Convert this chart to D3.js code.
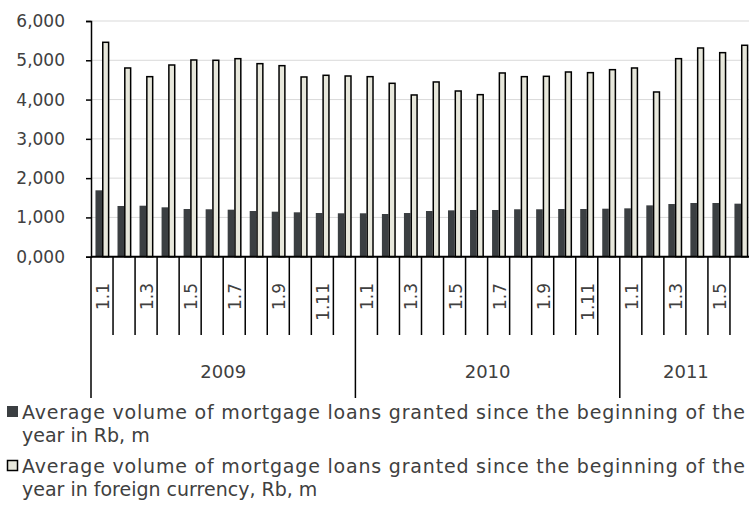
<!DOCTYPE html>
<html>
<head>
<meta charset="utf-8">
<script src="https://cdn.jsdelivr.net/npm/d3@7"></script>
<style>
  html, body { margin: 0; padding: 0; background: #fff; }
  svg { display: block; }
  text { font-family: "DejaVu Sans", sans-serif; fill: #404040; }
</style>
</head>
<body>
<svg id="chart" width="749" height="509"></svg>
<script>
// Monthly categories (day.month), grouped by year
const years = ["2009", "2010", "2011"];
const monthsPerYear = [12, 12, 6];
const monthLabels = ["1.1", "1.2", "1.3", "1.4", "1.5", "1.6", "1.7", "1.8", "1.9", "1.10", "1.11", "1.12"];

// Average volume of mortgage loans granted since the beginning of the year, Rb m
const rubleLoans = [
  1690, 1291, 1298, 1257, 1214, 1207, 1197, 1163, 1146, 1130, 1112, 1105,
  1105, 1087, 1112, 1163, 1180, 1189, 1189, 1207, 1207, 1214, 1214, 1222,
  1231, 1307, 1341, 1367, 1367, 1350
];
const foreignLoans = [
  5458, 4804, 4583, 4880, 5008, 5000, 5041, 4914, 4863, 4575, 4618, 4600,
  4583, 4414, 4117, 4448, 4218, 4125, 4677, 4583, 4592, 4702, 4685, 4761,
  4804, 4193, 5041, 5313, 5194, 5382
];

const yTickValues = [0, 1000, 2000, 3000, 4000, 5000, 6000];
const yTickLabels = ["0,000", "1,000", "2,000", "3,000", "4,000", "5,000", "6,000"];

const seriesNames = [
  "Average volume of mortgage loans granted since the beginning of the year in Rb, m",
  "Average volume of mortgage loans granted since the beginning of the year in foreign currency, Rb, m"
];
const legendLines = [
  ["Average volume of mortgage loans granted since the beginning of the", "year in Rb, m"],
  ["Average volume of mortgage loans granted since the beginning of the", "year in foreign currency, Rb, m"]
];

// Build the category list
const categories = [];
years.forEach((yr, yi) => {
  for (let m = 0; m < monthsPerYear[yi]; m++) {
    categories.push({ id: yr + "-" + (m + 1), year: yr, month: monthLabels[m], m: m });
  }
});
const rows = categories.map((c, i) => ({ ...c, rb: rubleLoans[i], fx: foreignLoans[i] }));

const colors = { rb: "#3b3f42", fx: "#e7e7db" };

const svg = d3.select("#chart");
const W = 749;
const plotL = 91, plotR = W + 3, plotT = 21, plotB = 256.7;

const x = d3.scaleBand().domain(rows.map(d => d.id)).range([plotL, plotR]).padding(0);
const x1 = d3.scaleBand().domain(["rb", "fx"]).range([0, x.step()]).paddingInner(0).paddingOuter(0.5);
const y = d3.scaleLinear().domain([0, 6000]).range([plotB, plotT]);

// Horizontal gridlines
svg.append("g")
  .selectAll("line")
  .data(yTickValues.filter(v => v > 0))
  .join("line")
  .attr("x1", plotL).attr("x2", plotR)
  .attr("y1", d => y(d)).attr("y2", d => y(d))
  .attr("stroke", "#d9d9d9").attr("stroke-width", 1);

// Bars
const groups = svg.append("g")
  .selectAll("g")
  .data(rows)
  .join("g")
  .attr("transform", d => `translate(${x(d.id)},0)`);

groups.append("rect")
  .attr("x", x1("rb") + 0.8)
  .attr("width", x1.bandwidth() - 0.8)
  .attr("y", d => y(d.rb))
  .attr("height", d => y(0) - y(d.rb))
  .attr("fill", colors.rb);

groups.append("rect")
  .attr("x", x1("fx") + 0.75)
  .attr("width", x1.bandwidth() - 1.5)
  .attr("y", d => y(d.fx))
  .attr("height", d => y(0) - y(d.fx))
  .attr("fill", colors.fx)
  .attr("stroke", "#000")
  .attr("stroke-width", 1.5);

// Y axis
const yAxis = d3.axisLeft(y)
  .tickValues(yTickValues)
  .tickFormat((d, i) => yTickLabels[i])
  .tickSize(5)
  .tickPadding(21);
const gy = svg.append("g").attr("transform", `translate(${plotL},0)`).call(yAxis);
gy.select(".domain").attr("stroke", "#000").attr("stroke-width", 1.5);
gy.selectAll(".tick line").attr("stroke", "#000").attr("stroke-width", 1.5);
gy.selectAll(".tick text")
  .attr("font-family", "DejaVu Sans")
  .attr("font-size", 17)
  .attr("fill", "#404040");

// X axis line
svg.append("line")
  .attr("x1", plotL).attr("x2", plotR)
  .attr("y1", plotB).attr("y2", plotB)
  .attr("stroke", "#000").attr("stroke-width", 2);

// Category separators
const step = x.step();
const boundaries = d3.range(rows.length + 1).map(i => plotL + i * step);
const yearStarts = [];
let acc = 0;
monthsPerYear.forEach(n => { yearStarts.push(acc); acc += n; });
yearStarts.push(acc);

svg.append("g")
  .selectAll("line")
  .data(boundaries)
  .join("line")
  .attr("x1", d => d).attr("x2", d => d)
  .attr("y1", plotB)
  .attr("y2", (d, i) => yearStarts.includes(i) ? 398 : 335)
  .attr("stroke", "#000").attr("stroke-width", 1.5);

// Month labels (every other month), rotated
svg.append("g")
  .selectAll("text")
  .data(rows.filter(d => d.m % 2 === 0))
  .join("text")
  .attr("transform", d => `translate(${x(d.id) + step / 2 + 1},283) rotate(-90)`)
  .attr("text-anchor", "end")
  .attr("dy", "0.35em")
  .attr("font-size", 17)
  .text(d => d.month);

// Year labels
svg.append("g")
  .selectAll("text")
  .data(years)
  .join("text")
  .attr("x", (d, i) => {
    const a = plotL + yearStarts[i] * step;
    const b = plotL + yearStarts[i + 1] * step;
    return (a + b) / 2;
  })
  .attr("y", 378)
  .attr("text-anchor", "middle")
  .attr("font-size", 18)
  .text(d => d);

// Legend
const legend = svg.append("g");
const legendBaseline = [419, 473];
["rb", "fx"].forEach((key, i) => {
  const g = legend.append("g").attr("transform", `translate(0,${legendBaseline[i]})`);
  g.append("rect")
    .attr("x", key === "fx" ? 7.5 : 7).attr("y", key === "fx" ? -12.5 : -13)
    .attr("width", key === "fx" ? 10 : 11).attr("height", key === "fx" ? 10 : 11)
    .attr("fill", colors[key])
    .attr("stroke", key === "fx" ? "#000" : "none")
    .attr("stroke-width", 1.5);
  const t = g.append("text")
    .attr("x", 22)
    .attr("y", 0)
    .attr("font-size", 19);
  legendLines[i].forEach((line, li) => {
    const ts = t.append("tspan")
      .attr("x", 22)
      .attr("dy", li === 0 ? 0 : 23)
      .text(line);
    if (li === 0) ts.attr("textLength", 723).attr("lengthAdjust", "spacing");
  });
  g.append("title").text(seriesNames[i]);
});
</script>
</body>
</html>
